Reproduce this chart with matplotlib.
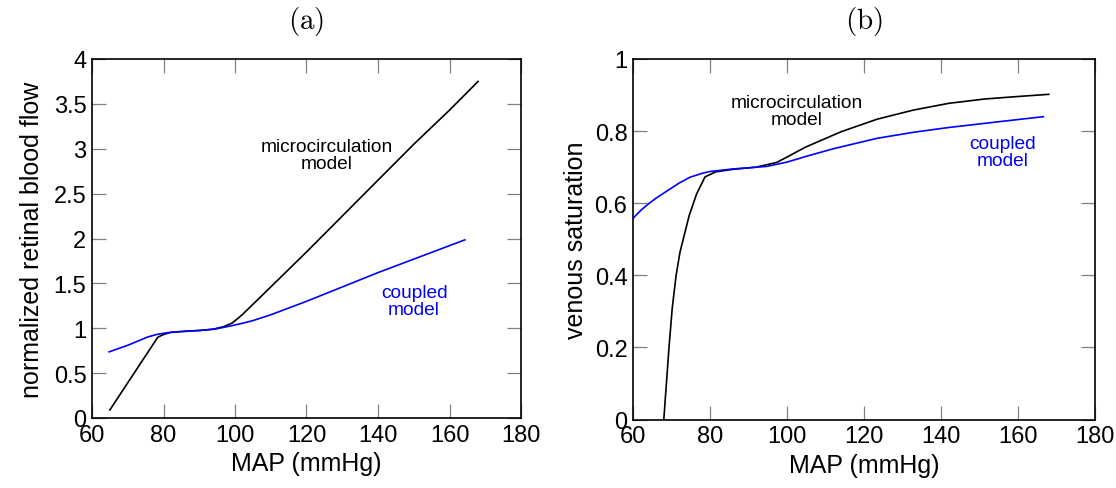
import numpy as np
import matplotlib
matplotlib.use("Agg")
import matplotlib.pyplot as plt

plt.rcParams['font.family'] = ['Liberation Sans', 'DejaVu Sans']
plt.rcParams['mathtext.fontset'] = 'cm'

# Panel (a): normalized retinal blood flow vs MAP
a_micro_x = [65, 78.4, 80, 82, 86, 90, 94, 97, 99.3, 102, 110, 120, 130, 140, 150, 160, 168]
a_micro_y = [0.09, 0.90, 0.93, 0.955, 0.967, 0.975, 0.99, 1.02, 1.06, 1.15, 1.46, 1.85, 2.25, 2.65, 3.05, 3.43, 3.75]
a_coup_x = [64.8, 70, 75.4, 78, 81, 86, 90, 94.3, 99.3, 102, 105, 110, 120, 140, 164.3]
a_coup_y = [0.737, 0.81, 0.90, 0.93, 0.95, 0.965, 0.975, 0.99, 1.03, 1.055, 1.085, 1.15, 1.30, 1.62, 1.985]

# Panel (b): venous saturation vs MAP
b_micro_x = [68.0, 69.35, 70.2, 71.2, 72.2, 74.6, 76.5, 78.7, 81.5, 86, 92, 97.3, 100,
             104.7, 114, 123.4, 132.7, 142, 151.3, 160, 168]
b_micro_y = [0.0, 0.2, 0.31, 0.4, 0.464, 0.566, 0.625, 0.673, 0.687, 0.694, 0.700, 0.713, 0.728,
             0.755, 0.798, 0.833, 0.858, 0.877, 0.889, 0.896, 0.902]
b_coup_x = [60, 62, 64, 66, 68.7, 72, 74.8, 78, 80, 86, 94.7, 100, 105, 112, 123.4, 133, 142, 155, 166.6]
b_coup_y = [0.558, 0.580, 0.598, 0.614, 0.633, 0.656, 0.672, 0.683, 0.688, 0.695, 0.702, 0.714, 0.730, 0.751,
            0.780, 0.797, 0.810, 0.826, 0.840]

x_ticks = [60, 80, 100, 120, 140, 160, 180]
a_yticks = [0, 0.5, 1, 1.5, 2, 2.5, 3, 3.5, 4]
a_yticklabels = ['0', '0.5', '1', '1.5', '2', '2.5', '3', '3.5', '4']
b_yticks = [0, 0.2, 0.4, 0.6, 0.8, 1]
b_yticklabels = ['0', '0.2', '0.4', '0.6', '0.8', '1']

W, H = 1116, 489
fig = plt.figure(figsize=(W / 100, H / 100), dpi=100)

def px_axes(x0, y0, x1, y1):
    return fig.add_axes([x0 / W, 1 - y1 / H, (x1 - x0) / W, (y1 - y0) / H])

axa = px_axes(92, 60, 521, 419)
axb = px_axes(633, 60, 1095, 420.5)

TICK_FS = 17
LABEL_FS = 18

def style(ax):
    for s in ax.spines.values():
        s.set_linewidth(1.2)
        s.set_color('black')
    ax.tick_params(direction='in', length=10, width=0.9, color='#808080',
                   top=True, right=True, labelsize=TICK_FS, pad=4, labelcolor='black')

BLUE = '#0000ff'
LW = 1.2

axa.plot(a_micro_x, a_micro_y, color='black', lw=LW)
axa.plot(a_coup_x, a_coup_y, color=BLUE, lw=LW)
axa.set_xlim(60, 180)
axa.set_ylim(0, 4)
axa.set_xticks(x_ticks)
axa.set_yticks(a_yticks)
axa.set_yticklabels(a_yticklabels)
style(axa)
axa.set_xlabel('MAP (mmHg)', fontsize=LABEL_FS, labelpad=4)
axa.set_ylabel('normalized retinal blood flow', fontsize=LABEL_FS, labelpad=7)
axa.set_title(r'$\mathrm{(a)}$', fontsize=21, pad=22)
axa.text(125.7, 2.93, 'microcirculation\nmodel', ha='center', va='center',
         fontsize=13.8, color='black', linespacing=1.0)
axa.text(150.1, 1.30, 'coupled\nmodel', ha='center', va='center',
         fontsize=13.8, color=BLUE, linespacing=1.0)

axb.plot(b_micro_x, b_micro_y, color='black', lw=LW)
axb.plot(b_coup_x, b_coup_y, color=BLUE, lw=LW)
axb.set_xlim(60, 180)
axb.set_ylim(0, 1)
axb.set_xticks(x_ticks)
axb.set_yticks(b_yticks)
axb.set_yticklabels(b_yticklabels)
style(axb)
axb.set_xlabel('MAP (mmHg)', fontsize=LABEL_FS, labelpad=4)
axb.set_ylabel('venous saturation', fontsize=LABEL_FS, labelpad=5)
axb.set_title(r'$\mathrm{(b)}$', fontsize=21, pad=22)
axb.text(102.5, 0.856, 'microcirculation\nmodel', ha='center', va='center',
         fontsize=13.8, color='black', linespacing=1.0)
axb.text(156.0, 0.741, 'coupled\nmodel', ha='center', va='center',
         fontsize=13.8, color=BLUE, linespacing=1.0)

fig.savefig('out.png', dpi=100)
